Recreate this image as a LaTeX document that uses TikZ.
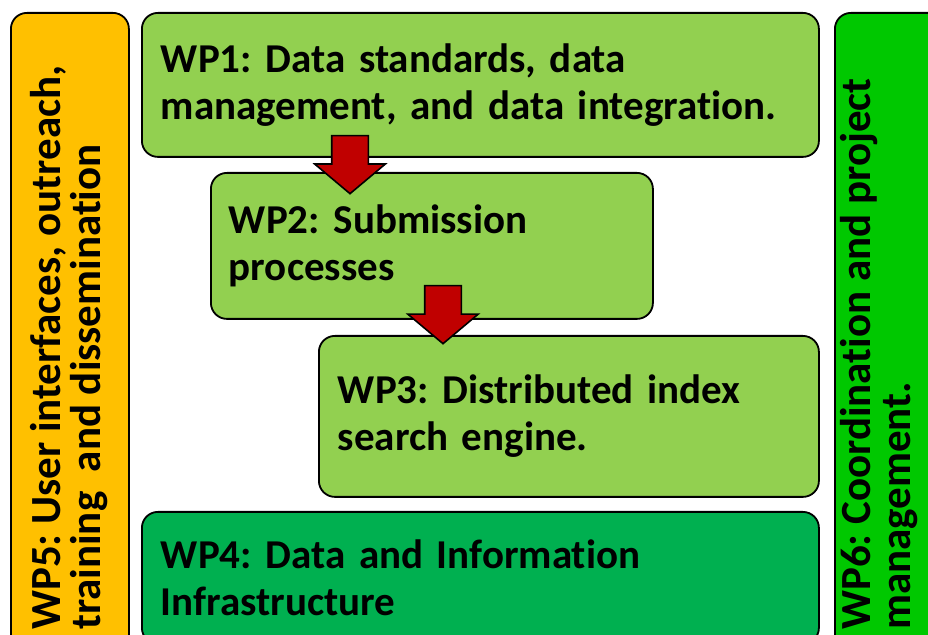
\documentclass[tikz,border=0pt]{standalone}
\usepackage{fontspec}
\setmainfont{Carlito}[RawFeature={-liga;-clig;-calt;-dlig}]
\usetikzlibrary{shapes.arrows, positioning}

\definecolor{wplight}{HTML}{92D050}
\definecolor{wpdark}{HTML}{00B050}
\definecolor{wporange}{HTML}{FFC000}
\definecolor{wpgreen}{HTML}{00C800}
\definecolor{flowred}{HTML}{C00000}

\begin{document}
\frenchspacing
\begin{tikzpicture}[
    x=1pt, y=1pt,
    wpbox/.style={draw, line width=1.8pt, rounded corners=16pt, inner sep=0pt, align=left,
        anchor=north west, font=\fontsize{41}{47}\selectfont\bfseries},
    sidebox/.style={draw, line width=1.8pt, rounded corners=16pt, anchor=north west},
    sidetext/.style={rotate=90, anchor=west, inner sep=0pt, align=left,
        font=\fontsize{43}{40}\selectfont\bfseries},
    wpflow/.style={draw, line width=1.6pt, fill=flowred, single arrow, shape border rotate=270,
        inner sep=17.5pt, single arrow head extend=17pt, single arrow tip angle=100,
        minimum height=58pt}
]
\useasboundingbox (0,0) rectangle (928,634);

% --- side columns ---
\node[sidebox, fill=wporange, minimum width=118pt, minimum height=650pt] (wp5) at (10,622) {};
\node[sidebox, fill=wpgreen, minimum width=130pt, minimum height=650pt] (wp6) at (834,622) {};
\node[sidetext] (wp5text) at (69,4) {WP5: User interfaces, outreach,\\training\ \ and dissemination};
\node[sidetext] (wp6text) at (879,4) {WP6: Coordination and project\\management.};

% --- work packages ---
\node[wpbox, fill=wplight, minimum width=677pt, minimum height=144pt, text width=639pt] (wp1) at (141,622)
    {WP1: Data standards, data\\management, and data integration.};
\node[wpbox, fill=wplight, minimum width=442pt, minimum height=146pt, text width=406pt] (wp2) at (210,462)
    {WP2: Submission\\processes};
\node[wpbox, fill=wplight, minimum width=500pt, minimum height=161pt, text width=462pt] (wp3) at (318,299)
    {WP3: Distributed index\\search engine.};
\node[wpbox, fill=wpdark, minimum width=677pt, minimum height=132pt, text width=639pt] (wp4) at (141,123)
    {WP4: Data and Information\\Infrastructure};

% --- flow between packages ---
\node[wpflow] (flow12) at (350,477) {};
\node[wpflow] (flow23) at (443,327) {};

\end{tikzpicture}
\end{document}
